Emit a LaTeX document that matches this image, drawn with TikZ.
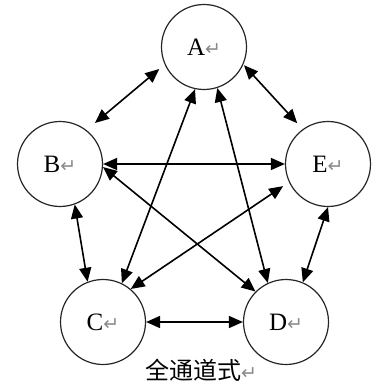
\documentclass[tikz,border=0pt]{standalone}
\usepackage{fontspec}
\usepackage{xcolor}
\usetikzlibrary{arrows.meta}
\setmainfont{Liberation Serif}
\newfontfamily\cjkfont{Noto Sans CJK SC}
\newfontfamily\markfont{DejaVu Sans}
\definecolor{markgray}{HTML}{8A8A8A}
\newcommand{\parmark}{{\markfont\fontsize{19}{19}\selectfont\color{markgray}↵}}

\begin{document}
\begin{tikzpicture}[x=1pt, y=-1pt,
        member/.style={draw=black!85, circle, line width=1.2pt, minimum size=85pt, inner sep=0pt, font=\fontsize{25}{27}\selectfont},
        link/.style={{Triangle[length=14pt,width=12pt]}-{Triangle[length=14pt,width=12pt]}, line width=1.6pt}]
        \useasboundingbox (0,0) rectangle (377,385);
        \node[member] (a) at (204,47) {A\parmark};
        \node[member] (b) at (60,164) {B\parmark};
        \node[member] (e) at (328,164) {E\parmark};
        \node[member] (c) at (103,322) {C\parmark};
        \node[member] (d) at (286,322) {D\parmark};
        \node[font=\cjkfont\fontsize{24}{26}\selectfont] (cap) at (201,370) {全通道式\parmark};
        \draw[link, shorten <=11pt, shorten >=7pt] (b.52) -- (a.204);
        \draw[link, shorten <=1pt, shorten >=8pt] (a.-24) -- (e.126);
        \draw[link] (b) -- (e);
        \draw[link] (c) -- (d);
        \draw[link] (b.-70) -- (c.111);
        \draw[link] (e.-90) -- (d.67);
        \draw[link] (a.-102) -- (c.64);
        \draw[link] (a.-72) -- (d.115);
        \draw[link] (b.-4) -- (d.135);
        \draw[link, shorten <=7pt] (e.205) -- (c.50);
      \end{tikzpicture}
\end{document}
